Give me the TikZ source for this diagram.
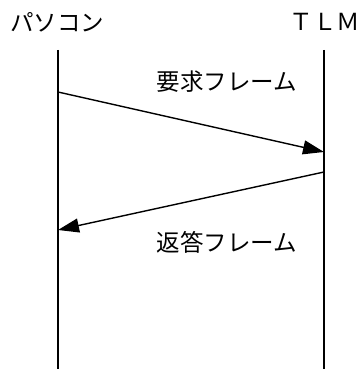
\documentclass[tikz,border=0pt]{standalone}
\usepackage{fontspec}
\newfontfamily\jpfont{Noto Sans CJK JP}
\usetikzlibrary{arrows.meta}
\begin{document}
\begin{tikzpicture}[x=1pt,y=1pt,
  lbl/.style={font=\jpfont\fontsize{23.5pt}{26pt}\selectfont, inner sep=0pt, anchor=center},
  life/.style={line width=1.4pt},
  msg/.style={line width=1.4pt, -{Triangle[length=21pt,width=14pt]}}]
\useasboundingbox (0,0) rectangle (361,369);
% lifelines
\coordinate (Ltop) at (58,319);
\coordinate (Lbot) at (58,0);
\coordinate (Rtop) at (324,319);
\coordinate (Rbot) at (324,0);
\draw[life] (Ltop) -- (Lbot);
\draw[life] (Rtop) -- (Rbot);
% labels
\node[lbl] (pc) at (57,347) {パソコン};
\node[lbl] (tlm) at (325,347) {ＴＬＭ};
\node[lbl] (req) at (227,287) {要求フレーム};
\node[lbl] (res) at (227,127) {返答フレーム};
% messages
\coordinate (m1s) at (58,277);
\coordinate (m1e) at (324,217);
\coordinate (m2s) at (324,197);
\coordinate (m2e) at (58,139);
\draw[msg] (m1s) -- (m1e);
\draw[msg] (m2s) -- (m2e);
\end{tikzpicture}
\end{document}
